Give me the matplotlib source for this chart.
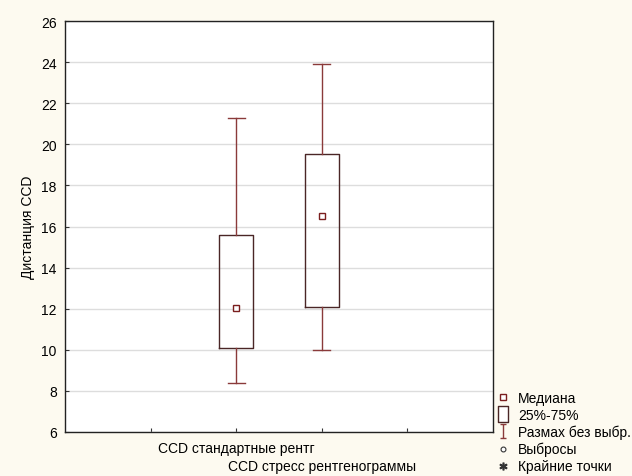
import matplotlib.pyplot as plt
import numpy as np
from matplotlib.lines import Line2D
from matplotlib.path import Path
from matplotlib.transforms import ScaledTranslation

plt.rcParams['font.family'] = ['Liberation Sans', 'DejaVu Sans']

# Данные
groups = ['CCD стандартные рентг', 'CCD стресс рентгенограммы']
positions = [2, 3]
medians = [12.05, 16.5]
q1 = [10.08, 12.1]
q3 = [15.57, 19.53]
whisker_lo = [8.36, 9.98]
whisker_hi = [21.29, 23.9]

bg = '#fdfaf0'
box_col = '#4a2626'
whisk_col = '#8a3a3a'
med_col = '#7a1e1e'

fig = plt.figure(figsize=(6.32, 4.77), dpi=100, facecolor=bg)
ax = fig.add_axes([0.1029, 0.0929, 0.6767, 0.8603])
ax.set_facecolor('white')

stats = []
for i in range(len(groups)):
    stats.append({'med': medians[i], 'q1': q1[i], 'q3': q3[i],
                  'whislo': whisker_lo[i], 'whishi': whisker_hi[i], 'fliers': []})

ax.bxp(stats, positions=positions, widths=0.4, showfliers=False,
       boxprops=dict(color=box_col, linewidth=1.0),
       whiskerprops=dict(color=whisk_col, linewidth=1.0),
       capprops=dict(color=whisk_col, linewidth=1.0),
       medianprops=dict(linewidth=0), capwidths=0.2, manage_ticks=False)
ax.plot(positions, medians, ls='none', marker='s', ms=4.5, mfc='white',
        mec=med_col, mew=1.0, zorder=5)

ax.set_xlim(0, 5)
ax.set_ylim(6, 26)
ax.set_yticks(np.arange(6, 27, 2))
ax.set_xticks([1, 2, 3, 4])
ax.set_xticklabels(['', groups[0], groups[1], ''])
ax.tick_params(axis='both', direction='in', length=3, labelsize=10, color='#333333')
ax.tick_params(axis='x', pad=7)
ax.tick_params(axis='y', pad=6)
ax.grid(axis='y', color='#dddddd', linewidth=1.0)
ax.set_axisbelow(True)
for s in ax.spines.values():
    s.set_color('#222222')
    s.set_linewidth(1.0)
ax.set_ylabel('Дистанция CCD', fontsize=10, labelpad=4)

# вторая подпись сдвинута вниз, как в оригинале
lab2 = ax.get_xticklabels()[2]
lab2.set_transform(lab2.get_transform() + ScaledTranslation(0, -12.5 / 72, fig.dpi_scale_trans))

# значки легенды
whisk_path = Path([(-0.5, 1), (0.5, 1), (0, 1), (0, -1), (-0.5, -1), (0.5, -1)],
                  [Path.MOVETO, Path.LINETO, Path.MOVETO, Path.LINETO, Path.MOVETO, Path.LINETO])
rect_path = Path([(-0.35, -0.5), (0.35, -0.5), (0.35, 0.5), (-0.35, 0.5), (-0.35, -0.5)],
                 [Path.MOVETO, Path.LINETO, Path.LINETO, Path.LINETO, Path.CLOSEPOLY])
handles = [
    Line2D([], [], ls='none', marker='s', ms=4, mfc='white', mec=med_col, mew=1.0),
    Line2D([], [], ls='none', marker=rect_path, ms=11, mfc='white', mec=box_col, mew=1.0),
    Line2D([], [], ls='none', marker=whisk_path, ms=10, mfc='none', mec=whisk_col, mew=1.0),
    Line2D([], [], ls='none', marker='o', ms=3.5, mfc='white', mec='#333333', mew=0.8),
    Line2D([], [], ls='none', marker='$*$', ms=5, color='#333333'),
]
labels = ['Медиана', '25%-75%', 'Размах без выбр.', 'Выбросы', 'Крайние точки']
fig.legend(handles, labels, loc='lower left', bbox_to_anchor=(0.772, -0.012), frameon=False,
           fontsize=10, handlelength=1.0, handletextpad=0.55, labelspacing=0.21,
           borderaxespad=0.2)

fig.savefig('out.png', dpi=100, facecolor=bg)
